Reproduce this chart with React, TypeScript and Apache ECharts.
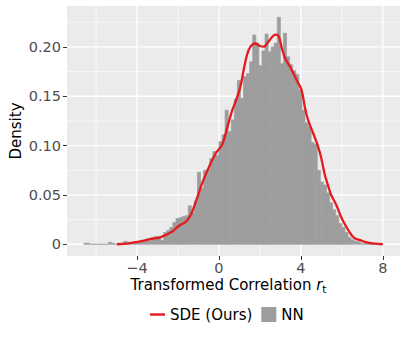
import React, { useEffect, useRef } from 'react';
import * as echarts from 'echarts';

// Histogram (NN): bins start at BIN_START, each BIN_WIDTH wide
const BIN_START = -6.6;
const BIN_WIDTH = 0.15;
const nnDensity = [
  0.001, 0.001, 0, 0, 0, 0, 0, 0, 0.002, 0.001,
  0, 0.001, 0.001, 0.003, 0.002, 0.001, 0.001, 0.002, 0.002, 0.003,
  0.003, 0.004, 0.007, 0.008, 0.008, 0.004, 0.012, 0.014, 0.017, 0.022,
  0.026, 0.027, 0.028, 0.029, 0.039, 0.032, 0.044, 0.073, 0.057, 0.075,
  0.076, 0.087, 0.094, 0.090, 0.104, 0.111, 0.136, 0.114, 0.126, 0.147,
  0.166, 0.148, 0.170, 0.173, 0.185, 0.212, 0.204, 0.181, 0.196, 0.213,
  0.195, 0.200, 0.204, 0.230, 0.183, 0.214, 0.190, 0.182, 0.176, 0.172,
  0.156, 0.136, 0.123, 0.119, 0.103, 0.101, 0.075, 0.063, 0.060, 0.052,
  0.042, 0.035, 0.029, 0.021, 0.017, 0.012, 0.007, 0.0045, 0.003, 0.0025,
  0.001, 0.001, 0.0005, 0, 0,
];

// SDE (Ours) density curve
const sdeX = [
  -4.98, -4.4, -3.95, -3.6, -3.3, -2.95, -2.7, -2.5, -2.27, -2.08,
  -1.85, -1.6, -1.35, -1.1, -0.81, -0.48, -0.16, 0.16, 0.4, 0.65,
  0.81, 1.05, 1.21, 1.37, 1.53, 1.77, 2.0, 2.18, 2.42, 2.66,
  2.82, 2.95, 3.06, 3.23, 3.47, 3.79, 4.03, 4.19, 4.35, 4.6,
  4.84, 5.0, 5.15, 5.32, 5.48, 5.73, 5.97, 6.23, 6.47, 6.63,
  6.95, 7.27, 7.6, 8.0,
];
const sdeY = [
  0, 0.001, 0.0025, 0.004, 0.0055, 0.0065, 0.0085, 0.0105, 0.013, 0.0165,
  0.02, 0.023, 0.031, 0.045, 0.0625, 0.0787, 0.092, 0.101, 0.118, 0.136,
  0.1445, 0.16, 0.177, 0.192, 0.2, 0.2035, 0.201, 0.2003, 0.2055, 0.2115,
  0.2125, 0.209, 0.1995, 0.1885, 0.18, 0.1665, 0.1564, 0.1395, 0.126, 0.1125,
  0.099, 0.087, 0.072, 0.06, 0.05, 0.0398, 0.0274, 0.0172, 0.0094, 0.006,
  0.0037, 0.0016, 0.0006, 0,
];

const xMajorTicks = [-4, 0, 4, 8];
const xMinorTicks = [-6, -2, 2, 6];
const yMajorTicks = [0, 0.05, 0.1, 0.15, 0.2];
const yMinorTicks = [0.025, 0.075, 0.125, 0.175, 0.225];

const X_MIN = -7.42;
const X_MAX = 8.84;
const Y_MIN = -0.0119;
const Y_MAX = 0.2415;

const FONT = 'DejaVu Sans';

export default function App() {
  const ref = useRef<HTMLDivElement>(null);

  useEffect(() => {
    if (!ref.current) return;
    const chart = echarts.init(ref.current, undefined, { renderer: 'svg' });

    const histData = nnDensity.map((d, i) => [
      BIN_START + i * BIN_WIDTH,
      BIN_START + (i + 1) * BIN_WIDTH,
      d,
    ]);
    const vLines = [
      ...xMinorTicks.map((v) => [v, 0]),
      ...xMajorTicks.map((v) => [v, 1]),
    ];
    const hLines = [
      ...yMinorTicks.map((v) => [v, 0]),
      ...yMajorTicks.map((v) => [v, 1]),
    ];
    const lineData = sdeX.map((x, i) => [x, sdeY[i]]);

    chart.setOption({
      animation: false,
      textStyle: { fontFamily: FONT },
      grid: {
        left: 63,
        top: 6,
        right: 5,
        bottom: 85,
        show: true,
        backgroundColor: '#ebebeb',
        borderWidth: 0,
      },
      legend: {
        left: 150,
        top: 307,
        padding: 0,
        itemWidth: 15,
        itemHeight: 15,
        itemGap: 9,
        symbolKeepAspect: true,
        textStyle: { fontFamily: FONT, fontSize: 15, color: '#000' },
        data: [
          { name: 'SDE (Ours)', icon: 'path://M0,0 L15,0 L15,2.4 L0,2.4 Z' },
          { name: 'NN', icon: 'rect' },
        ],
      },
      xAxis: {
        type: 'value',
        min: X_MIN,
        max: X_MAX,
        splitLine: { show: false },
        axisLine: { show: false, onZero: false },
        axisTick: {
          show: true,
          customValues: xMajorTicks,
          length: 4,
          lineStyle: { color: '#333', width: 1 },
        },
        axisLabel: {
          customValues: xMajorTicks,
          color: '#4d4d4d',
          fontSize: 14.5,
          lineHeight: 14,
          fontFamily: FONT,
          margin: 5,
          formatter: (v: number) => (v < 0 ? '\u2212' + Math.abs(v) : String(v)),
        },
        name: '{a|Transformed Correlation }{r|r}{t|t}',
        nameLocation: 'middle',
        nameGap: 19,
        nameMoveOverlap: false,
        nameTextStyle: {
          padding: [0, 10, 0, 0],
          rich: {
            a: { fontSize: 15, color: '#000', fontFamily: FONT },
            r: { fontSize: 15, color: '#000', fontFamily: FONT, fontStyle: 'italic' },
            t: { fontSize: 10.5, color: '#000', fontFamily: FONT, padding: [8, 0, 0, 0] },
          },
        },
      },
      yAxis: {
        type: 'value',
        min: Y_MIN,
        max: Y_MAX,
        splitLine: { show: false },
        axisLine: { show: false, onZero: false },
        axisTick: {
          show: true,
          customValues: yMajorTicks,
          length: 4,
          lineStyle: { color: '#333', width: 1 },
        },
        axisLabel: {
          customValues: yMajorTicks,
          color: '#4d4d4d',
          fontSize: 14.5,
          fontFamily: FONT,
          margin: 6,
          formatter: (v: number) => (Math.abs(v) < 1e-9 ? '0' : v.toFixed(2)),
        },
        name: 'Density',
        nameLocation: 'middle',
        nameGap: 44,
        nameMoveOverlap: false,
        nameTextStyle: { fontSize: 15, color: '#000', fontFamily: FONT },
      },
      series: [
        {
          type: 'custom',
          z: 1,
          silent: true,
          data: vLines,
          renderItem: (params: any, api: any) => {
            const v = api.value(0);
            const major = api.value(1);
            const p1 = api.coord([v, Y_MIN]);
            const p2 = api.coord([v, Y_MAX]);
            return {
              type: 'line',
              shape: { x1: p1[0], y1: p1[1], x2: p2[0], y2: p2[1] },
              style: { stroke: '#ffffff', lineWidth: major ? 1.3 : 0.6 },
            };
          },
        },
        {
          type: 'custom',
          z: 1,
          silent: true,
          data: hLines,
          encode: { x: -1, y: 0 },
          renderItem: (params: any, api: any) => {
            const v = api.value(0);
            const major = api.value(1);
            const p1 = api.coord([X_MIN, v]);
            const p2 = api.coord([X_MAX, v]);
            return {
              type: 'line',
              shape: { x1: p1[0], y1: p1[1], x2: p2[0], y2: p2[1] },
              style: { stroke: '#ffffff', lineWidth: major ? 1.3 : 0.6 },
            };
          },
        },
        {
          name: 'NN',
          type: 'custom',
          z: 3,
          itemStyle: { color: '#9d9d9d' },
          data: histData,
          encode: { x: [0, 1], y: 2 },
          renderItem: (params: any, api: any) => {
            const l = api.value(0);
            const r = api.value(1);
            const h = api.value(2);
            const p0 = api.coord([l, 0]);
            const p1 = api.coord([r, h]);
            return {
              type: 'rect',
              shape: { x: p0[0], y: p1[1], width: p1[0] - p0[0], height: p0[1] - p1[1] },
              style: { fill: '#9d9d9d', stroke: '#9d9d9d', lineWidth: 0.7 },
            };
          },
        },
        {
          name: 'SDE (Ours)',
          type: 'line',
          z: 4,
          data: lineData,
          smooth: 0.35,
          symbol: 'none',
          showSymbol: false,
          lineStyle: { color: '#e41a1c', width: 2.3 },
          itemStyle: { color: '#e41a1c' },
        },
      ],
    });

    return () => chart.dispose();
  }, []);

  return (
    <div
      ref={ref}
      style={{ position: 'absolute', left: 0, top: 0, width: 405, height: 341, background: '#fff' }}
    />
  );
}
